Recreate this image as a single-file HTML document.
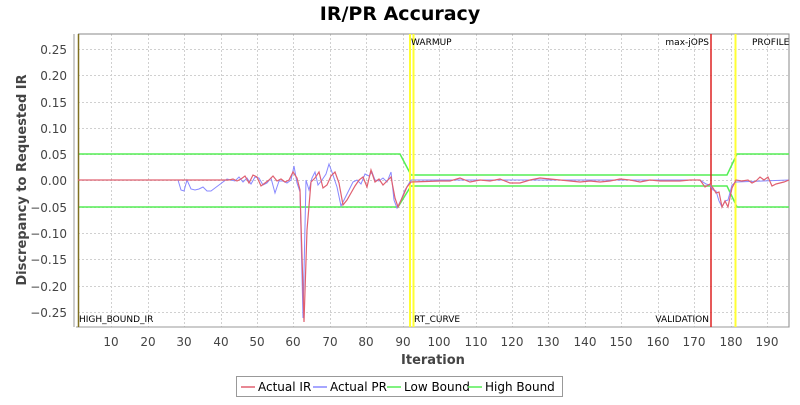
<!DOCTYPE html>
<html><head><style>
body{margin:0;background:#fff;width:800px;height:400px;overflow:hidden}
svg text{font-family:"DejaVu Sans","Liberation Sans",sans-serif}
</style></head><body>
<svg width="800" height="400" viewBox="0 0 800 400" xmlns="http://www.w3.org/2000/svg">
<text x="400" y="20" text-anchor="middle" font-size="19" font-weight="bold" fill="#000">IR/PR Accuracy</text>
<rect x="78" y="34" width="711" height="293" fill="#fff"/>
<g stroke="#d0d0d0" stroke-dasharray="2,2" stroke-width="1">
<path d="M78 49.5H789M78 75.5H789M78 102.5H789M78 128.5H789M78 154.5H789M78 180.5H789M78 207.5H789M78 233.5H789M78 259.5H789M78 286.5H789M78 312.5H789"/>
<path d="M111.5 34V327M148.5 34V327M184.5 34V327M221.5 34V327M257.5 34V327M293.5 34V327M330.5 34V327M366.5 34V327M403.5 34V327M439.5 34V327M476.5 34V327M512.5 34V327M548.5 34V327M585.5 34V327M621.5 34V327M658.5 34V327M694.5 34V327M731.5 34V327M767.5 34V327"/>
</g>
<path d="M78 34H789V327H78" fill="none" stroke="#888"/>
<g stroke="#999" fill="none">
<path d="M74 34V327M76 327H789"/>
</g>
<g font-size="12" fill="#444" text-anchor="end">
<text x="67" y="54">0.25</text><text x="67" y="80">0.20</text><text x="67" y="107">0.15</text><text x="67" y="133">0.10</text><text x="67" y="159">0.05</text><text x="67" y="185">0.00</text><text x="67" y="212">−0.05</text><text x="67" y="238">−0.10</text><text x="67" y="264">−0.15</text><text x="67" y="291">−0.20</text><text x="67" y="317">−0.25</text>
</g>
<g font-size="12" fill="#444" text-anchor="middle">
<text x="111" y="346">10</text><text x="148" y="346">20</text><text x="184" y="346">30</text><text x="221" y="346">40</text><text x="257" y="346">50</text><text x="293" y="346">60</text><text x="330" y="346">70</text><text x="366" y="346">80</text><text x="403" y="346">90</text><text x="439" y="346">100</text><text x="476" y="346">110</text><text x="512" y="346">120</text><text x="548" y="346">130</text><text x="585" y="346">140</text><text x="621" y="346">150</text><text x="658" y="346">160</text><text x="694" y="346">170</text><text x="731" y="346">180</text><text x="767" y="346">190</text>
</g>
<text x="433" y="364" text-anchor="middle" font-size="13" font-weight="bold" fill="#444">Iteration</text>
<text transform="translate(26 180) rotate(-90)" text-anchor="middle" font-size="13" font-weight="bold" fill="#444">Discrepancy to Requested IR</text>
<!-- bounds -->
<polyline fill="none" stroke="#55ee55" stroke-width="1.5" points="78,154 400,154 411,175 727,175 737,154 789,154"/>
<polyline fill="none" stroke="#55ee55" stroke-width="1.5" points="78,207 398,207 411,186 727,186 737,207 789,207"/>
<!-- markers -->
<line x1="78.5" y1="34" x2="78.5" y2="327" stroke="#807020" stroke-width="1.5"/>
<line x1="410" y1="34" x2="410" y2="327" stroke="#ffff33" stroke-width="2"/>
<line x1="413.5" y1="34" x2="413.5" y2="327" stroke="#ffff33" stroke-width="2"/>
<line x1="711" y1="34" x2="711" y2="327" stroke="#dd2222" stroke-width="1.5"/>
<line x1="735.5" y1="34" x2="735.5" y2="327" stroke="#ffff33" stroke-width="2"/>
<!-- PR -->
<polyline fill="none" stroke="#8888ff" stroke-width="1" points="78,180 178,180 181,190 184,191 187,180 191,189 195,190 199,189 203,187 207,191 211,191 215,188 219,185 223,182 227,179 231,180 235,181 239,177 243,182 247,178 251,184 255,177 259,178 263,185 267,183 271,178 275,193 279,181 283,181 287,183 291,180 294,166 297,183 300,192 303,318 306,180 309,190 312,178 315,172 318,185 322,180 326,174 329,164 333,175 337,187 341,206 345,198 349,190 353,182 357,180 361,184 365,174 369,176 372,172 375,180 379,181 383,178 387,182 391,172 394,200 397,208 401,200 405,190 411,180 700,180 706,184 710,185 713,190 716,191 719,201 722,207 725,201 728,200 732,185 736,182 789,180"/>
<!-- IR -->
<polyline fill="none" stroke="#e06070" stroke-width="1.2" points="78,180 229,180 233,179 237,181 241,179 245,176 249,183 253,175 257,177 261,186 265,183 269,180 273,176 277,181 281,179 285,182 289,180 293,172 297,178 300,190 304,322 307,230 311,182 315,178 319,172 323,188 327,185 331,176 335,172 339,183 343,205 347,200 351,193 355,186 359,180 363,177 367,187 371,170 375,182 379,179 383,185 387,181 391,177 395,198 398,207 403,196 407,187 411,182 440,181 450,181 460,178 470,182 480,180 490,181 500,179 510,183 520,183 530,180 540,178 550,179 560,180 570,181 580,182 590,181 600,182 610,181 620,179 630,180 640,182 650,180 660,181 670,181 680,181 690,180 700,180 705,187 710,184 713,188 716,193 719,192 722,207 725,201 728,207 732,188 736,180 742,181 748,180 752,183 756,181 760,177 764,180 768,177 772,186 776,184 780,183 784,182 789,180"/>
<g font-size="9" fill="#000">
<text x="79" y="322">HIGH_BOUND_IR</text>
<text x="411" y="45">WARMUP</text>
<text x="414" y="322">RT_CURVE</text>
<text x="709" y="45" text-anchor="end">max-jOPS</text>
<text x="709" y="322" text-anchor="end">VALIDATION</text>
<text x="752" y="45">PROFILE</text>
</g>
<!-- legend -->
<rect x="236.5" y="376.5" width="326" height="20" fill="#fff" stroke="#999"/>
<g font-size="12" fill="#000">
<line x1="241" y1="387" x2="255" y2="387" stroke="#e06070" stroke-width="1.5"/><text x="258" y="391">Actual IR</text>
<line x1="313" y1="387" x2="327" y2="387" stroke="#8888ff" stroke-width="1.5"/><text x="330" y="391">Actual PR</text>
<line x1="387" y1="387" x2="401" y2="387" stroke="#55ee55" stroke-width="1.5"/><text x="404" y="391">Low Bound</text>
<line x1="468" y1="387" x2="482" y2="387" stroke="#55ee55" stroke-width="1.5"/><text x="485" y="391">High Bound</text>
</g>
</svg>
</body></html>
